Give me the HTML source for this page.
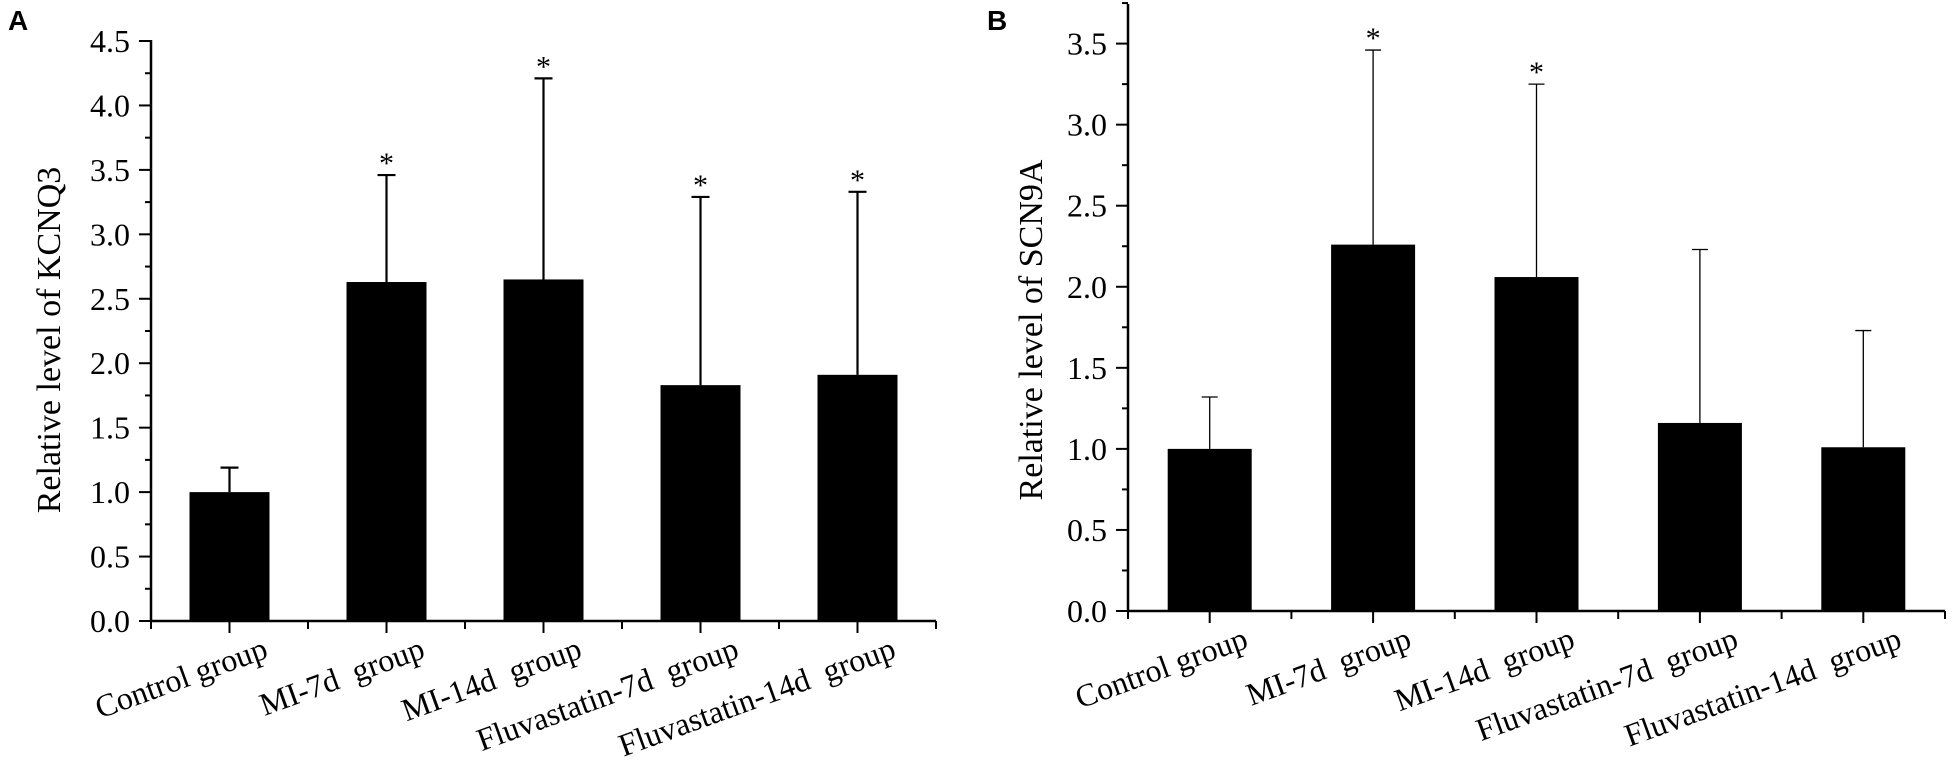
<!DOCTYPE html>
<html><head><meta charset="utf-8"><style>
html,body{margin:0;padding:0;background:#fff}
svg{display:block}
text{font-family:"Liberation Serif",serif;fill:#000;white-space:pre}
.pl{font-family:"Liberation Sans",sans-serif;font-weight:bold}
</style></head><body>
<svg id="fig" width="1954" height="766" viewBox="0 0 1954 766" xmlns="http://www.w3.org/2000/svg" xml:space="preserve">
<text class="pl" x="8" y="30" font-size="28">A</text>
<text class="pl" x="987" y="30" font-size="28">B</text>
<g id="chartA"></g>
<g id="chartB"></g>
</svg>
<script>
const categories = ["Control group","MI-7d  group","MI-14d  group","Fluvastatin-7d  group","Fluvastatin-14d  group"];
const kcnq3Values = [1.00, 2.63, 2.65, 1.83, 1.91];
const kcnq3Errors = [0.19, 0.83, 1.56, 1.46, 1.42];
const kcnq3Sig = [false, true, true, true, true];
const kcnq3Ticks = ["0.0","0.5","1.0","1.5","2.0","2.5","3.0","3.5","4.0","4.5"];
const scn9aValues = [1.00, 2.26, 2.06, 1.16, 1.01];
const scn9aErrors = [0.32, 1.20, 1.19, 1.07, 0.72];
const scn9aSig = [false, true, true, false, false];
const scn9aTicks = ["0.0","0.5","1.0","1.5","2.0","2.5","3.0","3.5"];

const NS = "http://www.w3.org/2000/svg";
function mk(parent, tag, attrs, txt){
  const e = document.createElementNS(NS, tag);
  for (const k in attrs) e.setAttribute(k, attrs[k]);
  if (txt !== undefined) e.textContent = txt;
  parent.appendChild(e);
  return e;
}
function draw(g, cfg, vals, errs, sig, ticks){
  const y = v => cfg.y0 - (v / cfg.ymax) * (cfg.y0 - cfg.ytop);
  const step = (cfg.x1 - cfg.x0) / vals.length;
  const x = i => cfg.x0 + step * (i + 0.5);
  const ya = mk(g, "line", {x1:cfg.x0, y1:cfg.axTop, x2:cfg.x0, y2:cfg.y0+1, stroke:"#000","stroke-width":2.5});
  
  
  const xa = mk(g, "line", {x1:cfg.x0-1, y1:cfg.y0, x2:cfg.x1, y2:cfg.y0, stroke:"#000","stroke-width":2.5});
  
  
  const nMinor = (ticks.length - 1) * 2 + cfg.extraMinor;
  for (let k = 0; k <= nMinor; k++){
    const v = k * 0.25, major = k % 2 === 0;
    mk(g, "line", {x1:cfg.x0 - (major?12:6), y1:y(v), x2:cfg.x0, y2:y(v), stroke:"#000","stroke-width":2});
  }
  ticks.forEach((t, i) => {
    const tl = mk(g, "text", {x:cfg.x0 - 21, y:y(parseFloat(t)) + 11, "font-size":32, "text-anchor":"end"}, t);
    
    
  });
  for (let i = 0; i <= vals.length; i++){
    const xx = cfg.x0 + step * i;
    mk(g, "line", {x1:xx, y1:cfg.y0, x2:xx, y2:cfg.y0+8, stroke:"#000","stroke-width":2});
  }
  vals.forEach((v, i) => {
    mk(g, "line", {x1:x(i), y1:cfg.y0, x2:x(i), y2:cfg.y0+12, stroke:"#000","stroke-width":2});
    const eb = mk(g, "path", {d:`M${x(i)} ${y(v)} V${y(v+errs[i])} M${x(i)-cfg.cap} ${y(v+errs[i])} H${x(i)+cfg.cap}`, stroke:"#000","stroke-width":cfg.ew, fill:"none"});
    
    
    const b = mk(g, "rect", {x:x(i)-cfg.bw/2, y:y(v), width:cfg.bw, height:cfg.y0 - y(v), fill:"#000"});
    
    
    if (sig[i]){
      const s = mk(g, "text", {x:x(i), y:y(v+errs[i]) - 2, "font-size":30, "text-anchor":"middle"}, "*");
      
      
    }
    const ax = x(i) + 40, ay = cfg.y0 + 36;
    const lb = mk(g, "text", {x:ax, y:ay, "font-size":32, "text-anchor":"end", transform:`rotate(-20 ${ax} ${ay})`}, categories[i]);
    
    
  });
  const tx = cfg.titleX, ty = cfg.titleY;
  const tt = mk(g, "text", {x:tx, y:ty, "font-size":34, "text-anchor":"middle", transform:`rotate(-90 ${tx} ${ty})`}, cfg.title);
  
  
}
draw(document.getElementById("chartA"),
  {x0:151, x1:936, y0:621, ytop:41, ymax:4.5, axTop:40, bw:80, cap:9, ew:2.2, extraMinor:0,
   title:"Relative level of KCNQ3", titleX:60, titleY:340},
  kcnq3Values, kcnq3Errors, kcnq3Sig, kcnq3Ticks);
draw(document.getElementById("chartB"),
  {x0:1128, x1:1945, y0:611, ytop:43.6, ymax:3.5, axTop:4, bw:84, cap:8, ew:1.3, extraMinor:1,
   title:"Relative level of SCN9A", titleX:1042, titleY:330},
  scn9aValues, scn9aErrors, scn9aSig, scn9aTicks);
</script>
</body></html>
